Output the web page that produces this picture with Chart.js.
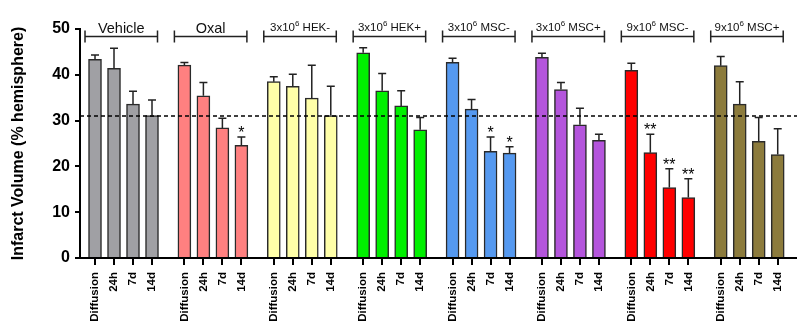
<!DOCTYPE html>
<html>
<head>
<meta charset="utf-8">
<script src="https://cdn.jsdelivr.net/npm/chart.js@4"></script>
<style>
  html, body { margin: 0; padding: 0; background: #fff; }
  #wrap { width: 797px; height: 323px; }
</style>
</head>
<body>
<div id="wrap"><canvas id="c" width="797" height="323"></canvas></div>
<script>
// Treatment groups (a "^" marks the superscript exponent of the cell dose)
const groups = ['Vehicle', 'Oxal', '3x10^6 HEK-', '3x10^6 HEK+', '3x10^6 MSC-', '3x10^6 MSC+', '9x10^6 MSC-', '9x10^6 MSC+'];
const timepoints = ['Diffusion', '24h', '7d', '14d'];

// Mean infarct volume (% hemisphere) per group, one value per time point
const vehicle = [43.4, 41.4, 33.6, 31.1];
const oxal    = [42.1, 35.4, 28.4, 24.6];
const hekNeg  = [38.5, 37.5, 34.9, 31.1];
const hekPos  = [44.8, 36.5, 33.2, 28.0];
const msc3Neg = [42.7, 32.5, 23.3, 22.9];
const msc3Pos = [43.8, 36.8, 29.1, 25.7];
const msc9Neg = [41.0, 23.0, 15.4, 13.2];
const msc9Pos = [42.0, 33.6, 25.5, 22.6];

// Upper error (SEM)
const vehicleErr = [0.9, 4.4, 2.8, 3.4];
const oxalErr    = [0.6, 2.9, 2.1, 1.8];
const hekNegErr  = [1.1, 2.6, 7.2, 6.4];
const hekPosErr  = [1.1, 3.8, 3.3, 2.7];
const msc3NegErr = [0.9, 2.1, 3.1, 1.4];
const msc3PosErr = [0.9, 1.5, 3.6, 1.3];
const msc9NegErr = [1.5, 4.0, 4.1, 4.1];
const msc9PosErr = [2.0, 4.9, 5.2, 5.6];

// Significance marks
const vehicleSig = ['', '', '', ''];
const oxalSig    = ['', '', '', '*'];
const hekNegSig  = ['', '', '', ''];
const hekPosSig  = ['', '', '', ''];
const msc3NegSig = ['', '', '*', '*'];
const msc3PosSig = ['', '', '', ''];
const msc9NegSig = ['', '**', '**', '**'];
const msc9PosSig = ['', '', '', ''];

const yTicks = [0, 10, 20, 30, 40, 50];
const referenceLevel = 31;

const means = [vehicle, oxal, hekNeg, hekPos, msc3Neg, msc3Pos, msc9Neg, msc9Pos];
const errs  = [vehicleErr, oxalErr, hekNegErr, hekPosErr, msc3NegErr, msc3PosErr, msc9NegErr, msc9PosErr];
const sigs  = [vehicleSig, oxalSig, hekNegSig, hekPosSig, msc3NegSig, msc3PosSig, msc9NegSig, msc9PosSig];

const colors = ['#a0a0a4', '#ff8080', '#ffffa8', '#00f000', '#5599f0', '#b455dc', '#ff0000', '#8c7b3c'];

// Layout of bar slots along x: bars one unit apart, groups a little further apart
const GROUP_STEP = 4.705;
const points = [], barColors = [], barErr = [], barSig = [], tickPos = [];
means.forEach((vals, g) => {
  vals.forEach((v, i) => {
    const x = g * GROUP_STEP + i;
    points.push({ x: x, y: v });
    barColors.push(colors[g]);
    barErr.push(errs[g][i]);
    barSig.push(sigs[g][i]);
    tickPos.push(x);
  });
});

const FONT = '"Liberation Sans", Arial, Helvetica, sans-serif';

const annotations = {
  id: 'annotations',
  afterDatasetsDraw(chart) {
    const { ctx, chartArea } = chart;
    const xs = chart.scales.x, ys = chart.scales.y;
    ctx.save();

    // error bars (upper only) and significance stars
    ctx.strokeStyle = '#222';
    ctx.lineWidth = 1.5;
    points.forEach((p, k) => {
      const px = xs.getPixelForValue(p.x);
      const top = ys.getPixelForValue(p.y);
      const et = ys.getPixelForValue(p.y + barErr[k]);
      ctx.beginPath();
      ctx.moveTo(px, top);
      ctx.lineTo(px, et);
      ctx.moveTo(px - 4, et);
      ctx.lineTo(px + 4, et);
      ctx.stroke();
      if (barSig[k]) {
        ctx.fillStyle = '#000';
        ctx.font = '16px ' + FONT;
        ctx.textAlign = 'center';
        ctx.textBaseline = 'alphabetic';
        ctx.fillText(barSig[k], px, et + 1);
      }
    });

    // dashed reference line
    const ry = ys.getPixelForValue(referenceLevel);
    ctx.setLineDash([4, 3]);
    ctx.strokeStyle = '#000';
    ctx.lineWidth = 1.5;
    ctx.beginPath();
    ctx.moveTo(chartArea.left, ry);
    ctx.lineTo(chartArea.right, ry);
    ctx.stroke();
    ctx.setLineDash([]);

    // group brackets and names
    groups.forEach((name, g) => {
      const x0 = xs.getPixelForValue(g * GROUP_STEP) - 10;
      const x1 = xs.getPixelForValue(g * GROUP_STEP + 3) + 5.5;
      const ly = 36.5;
      ctx.strokeStyle = '#222';
      ctx.lineWidth = 1.5;
      ctx.beginPath();
      ctx.moveTo(x0, ly); ctx.lineTo(x1, ly);
      ctx.moveTo(x0, ly - 6); ctx.lineTo(x0, ly + 6);
      ctx.moveTo(x1, ly - 6); ctx.lineTo(x1, ly + 6);
      ctx.stroke();

      const cx = (x0 + x1) / 2;
      ctx.fillStyle = '#111';
      ctx.textBaseline = 'alphabetic';
      ctx.textAlign = 'left';
      if (name.indexOf('^') >= 0) {
        const m = name.match(/^(.*)\^(\d+)(.*)$/);
        const main = 11.5, sup = 8;
        ctx.font = main + 'px ' + FONT;
        const w1 = ctx.measureText(m[1]).width;
        const w3 = ctx.measureText(m[3]).width;
        ctx.font = sup + 'px ' + FONT;
        const w2 = ctx.measureText(m[2]).width;
        let x = cx - (w1 + w2 + w3) / 2;
        ctx.font = main + 'px ' + FONT;
        ctx.fillText(m[1], x, 31);
        x += w1;
        ctx.font = sup + 'px ' + FONT;
        ctx.fillText(m[2], x, 26);
        x += w2;
        ctx.font = main + 'px ' + FONT;
        ctx.fillText(m[3], x, 31);
      } else {
        ctx.font = '14.5px ' + FONT;
        ctx.textAlign = 'center';
        ctx.fillText(name, cx, 32.5);
      }
    });
    ctx.restore();
  }
};

new Chart(document.getElementById('c'), {
  type: 'bar',
  data: {
    datasets: [{
      data: points,
      backgroundColor: barColors,
      borderColor: '#2a2a2a',
      borderWidth: 1.5,
      barThickness: 13
    }]
  },
  options: {
    responsive: false,
    animation: false,
    devicePixelRatio: 1,
    layout: { padding: { top: 29, right: 0, bottom: 0, left: 0 } },
    plugins: { legend: { display: false }, tooltip: { enabled: false } },
    scales: {
      x: {
        type: 'linear',
        offset: false,
        min: -0.79,
        max: 36.95,
        grid: { display: true, offset: false, drawOnChartArea: false, drawTicks: true, tickLength: 7, color: '#000', lineWidth: 2 },
        border: { display: true, color: '#000', width: 2 },
        afterBuildTicks: s => { s.ticks = tickPos.map(v => ({ value: v })); },
        afterFit: s => { s.height = 65; s.paddingLeft = 0; s.paddingRight = 0; },
        ticks: {
          autoSkip: false,
          minRotation: 90,
          maxRotation: 90,
          padding: 7,
          color: '#000',
          font: { family: FONT, size: 11.5, weight: 'bold' },
          callback: (v, i) => timepoints[i % timepoints.length]
        }
      },
      y: {
        min: 0,
        max: 50,
        afterBuildTicks: s => { s.ticks = yTicks.map(v => ({ value: v })); },
        afterFit: s => { s.width = 80; },
        grid: { display: true, drawOnChartArea: false, drawTicks: true, tickLength: 5, color: '#000', lineWidth: 2 },
        border: { display: true, color: '#000', width: 2 },
        ticks: {
          padding: 5,
          color: '#000',
          font: { family: FONT, size: 16, weight: 'bold' }
        },
        title: {
          display: true,
          text: 'Infarct Volume (% hemisphere)',
          color: '#000',
          font: { family: FONT, size: 16, weight: 'bold' },
          padding: { top: 9, bottom: 0 }
        }
      }
    }
  },
  plugins: [annotations]
});
</script>
</body>
</html>
